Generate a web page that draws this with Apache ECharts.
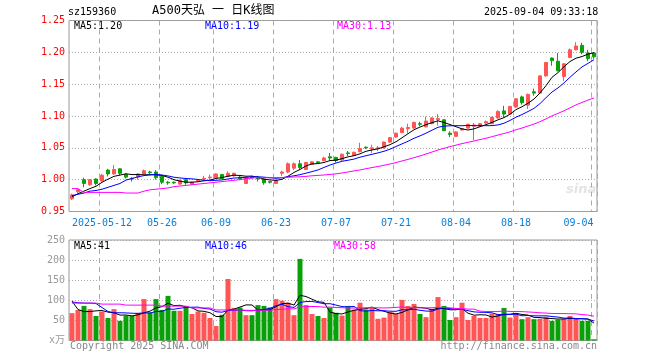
<!DOCTYPE html>
<html><head><meta charset="utf-8">
<script src="https://cdn.jsdelivr.net/npm/echarts@6/dist/echarts.min.js"></script>
<style>html,body{margin:0;padding:0;background:#fff}#c{width:660px;height:360px}</style>
</head><body><div id="c"></div>
<script>
const dates = ['2025-04-30',
'2025-05-06','2025-05-07','2025-05-08','2025-05-09',
'2025-05-12','2025-05-13','2025-05-14','2025-05-15','2025-05-16',
'2025-05-19','2025-05-20','2025-05-21','2025-05-22','2025-05-23',
'2025-05-26','2025-05-27','2025-05-28','2025-05-29','2025-05-30',
'2025-06-03','2025-06-04','2025-06-05','2025-06-06',
'2025-06-09','2025-06-10','2025-06-11','2025-06-12','2025-06-13',
'2025-06-16','2025-06-17','2025-06-18','2025-06-19','2025-06-20',
'2025-06-23','2025-06-24','2025-06-25','2025-06-26','2025-06-27',
'2025-06-30','2025-07-01','2025-07-02','2025-07-03','2025-07-04',
'2025-07-07','2025-07-08','2025-07-09','2025-07-10','2025-07-11',
'2025-07-14','2025-07-15','2025-07-16','2025-07-17','2025-07-18',
'2025-07-21','2025-07-22','2025-07-23','2025-07-24','2025-07-25',
'2025-07-28','2025-07-29','2025-07-30','2025-07-31','2025-08-01',
'2025-08-04','2025-08-05','2025-08-06','2025-08-07','2025-08-08',
'2025-08-11','2025-08-12','2025-08-13','2025-08-14','2025-08-15',
'2025-08-18','2025-08-19','2025-08-20','2025-08-21','2025-08-22',
'2025-08-25','2025-08-26','2025-08-27','2025-08-28','2025-08-29',
'2025-09-01','2025-09-02','2025-09-03','2025-09-04'];

const labelDates = ['2025-05-12','2025-05-26','2025-06-09','2025-06-23','2025-07-07','2025-07-21','2025-08-04','2025-08-18','2025-09-04'];

const opens = [0.970,0.981,1.000,0.992,1.001,0.998,1.015,1.009,1.017,1.008,
1.002,1.004,1.009,1.012,1.012,1.005,0.996,0.996,0.993,1.000,
0.993,0.998,1.001,1.003,1.003,1.008,1.005,1.006,1.004,0.994,
1.004,1.003,1.001,0.997,0.994,1.010,1.012,1.018,1.025,1.016,
1.024,1.028,1.030,1.036,1.035,1.031,1.042,1.038,1.044,1.051,
1.048,1.049,1.050,1.059,1.067,1.074,1.080,1.081,1.088,1.083,
1.088,1.094,1.094,1.073,1.068,1.078,1.081,1.084,1.084,1.089,
1.088,1.097,1.108,1.103,1.114,1.130,1.117,1.138,1.136,1.163,
1.191,1.186,1.162,1.192,1.204,1.211,1.199,1.199];

const closes = [0.976,0.984,0.994,1.000,0.994,1.007,1.009,1.016,1.010,1.004,
1.001,1.009,1.014,1.011,1.003,0.996,0.995,0.995,0.999,0.995,
0.996,0.999,1.002,1.004,1.009,1.002,1.010,1.010,1.002,1.003,
1.003,1.001,0.995,0.996,0.999,1.012,1.025,1.025,1.019,1.027,
1.028,1.027,1.034,1.034,1.030,1.040,1.041,1.043,1.049,1.050,
1.050,1.050,1.059,1.066,1.073,1.081,1.082,1.090,1.087,1.092,
1.097,1.096,1.077,1.071,1.075,1.080,1.087,1.086,1.088,1.091,
1.098,1.107,1.103,1.115,1.127,1.121,1.134,1.136,1.163,1.184,
1.187,1.171,1.182,1.204,1.210,1.200,1.190,1.193];

const lows = [0.968,0.979,0.988,0.990,0.991,0.997,1.005,1.008,1.007,1.002,
0.997,1.000,1.008,1.009,1.000,0.993,0.992,0.993,0.992,0.992,
0.992,0.996,0.999,1.000,1.002,1.001,1.004,1.005,1.000,0.993,
1.002,0.997,0.992,0.994,0.993,1.006,1.010,1.015,1.015,1.015,
1.023,1.025,1.029,1.030,1.027,1.030,1.037,1.037,1.043,1.048,
1.042,1.045,1.049,1.058,1.066,1.073,1.073,1.080,1.084,1.082,
1.087,1.085,1.076,1.067,1.067,1.077,1.080,1.062,1.083,1.088,
1.087,1.096,1.098,1.102,1.113,1.118,1.111,1.132,1.135,1.162,
1.179,1.170,1.155,1.191,1.203,1.197,1.186,1.190];

const highs = [0.978,0.986,1.003,1.001,1.002,1.009,1.017,1.023,1.018,1.010,
1.004,1.010,1.016,1.014,1.015,1.006,0.998,0.997,1.000,1.001,
0.997,1.001,1.006,1.008,1.010,1.009,1.013,1.011,1.006,1.004,
1.006,1.006,1.002,0.998,1.000,1.014,1.027,1.027,1.031,1.028,
1.029,1.029,1.036,1.042,1.036,1.041,1.045,1.044,1.058,1.052,
1.055,1.053,1.060,1.067,1.074,1.083,1.088,1.091,1.091,1.099,
1.098,1.103,1.095,1.076,1.076,1.081,1.088,1.089,1.089,1.093,
1.099,1.109,1.116,1.116,1.128,1.132,1.135,1.143,1.164,1.185,
1.192,1.199,1.183,1.206,1.216,1.215,1.204,1.200];

const volumes = [68,76,86,78,61,72,56,78,49,62,
61,69,103,70,103,76,111,74,74,82,
66,72,69,56,36,64,153,81,82,63,
63,88,86,82,103,99,94,63,203,88,
66,61,56,82,69,62,86,77,94,77,
82,54,57,71,66,101,86,91,66,58,
79,108,86,51,58,94,51,61,56,56,
67,66,81,57,67,53,58,53,54,59,
49,52,54,61,54,49,49,3];

// moving-average values at the start of the window (history before window)
const ma5Head = [0.973,0.978,0.982,0.986];
const ma10Head = [0.975,0.977,0.979,0.982,0.983,0.985,0.988,0.991,0.994];
const ma30Head = [0.986,0.986,0.980,0.980,0.980,0.980,0.980,0.980,0.980,0.979,
0.979,0.979,0.982,0.984,0.985,0.986,0.987,0.989,0.990,0.991,
0.992,0.993,0.994,0.995,0.996,0.997,0.998,0.999,1.000];
const volMa5Head = [98,77,72,72];
const volMa10Head = [96,94,93,93,92,82,72,69,69];
const volMa30Head = [93,93,93,93,93,90.5,90.5,90.5,90.5,88,88,88,88,88,88,85.5,85.5,85.5,85.5,85.5,81,81,81,81,76,76,76,76,76];

function movingAverage(vals, n, head) {
  return vals.map((v, i) => {
    if (i < head.length) return head[i];
    let s = 0;
    for (let k = i - n + 1; k <= i; k++) s += vals[k];
    return +(s / n).toFixed(4);
  });
}

const UP = '#ff5555', DOWN = '#0aa00a';
const MONO = '"DejaVu Sans Mono", "Noto Sans CJK SC", monospace';
const kData = dates.map((d, i) => [opens[i], closes[i], lows[i], highs[i]]);
const volData = volumes.map((v, i) => ({ value: v, itemStyle: { color: closes[i] >= opens[i] ? UP : DOWN } }));
const labelIdx = labelDates.map(d => dates.indexOf(d));
const isLabel = (i) => labelIdx.indexOf(i) >= 0;

const chart = echarts.init(document.getElementById('c'), null, { renderer: 'canvas' });
const gridLeft = 69, gridW = 528;
const splitX = { show: true, interval: (i) => isLabel(i), lineStyle: { color: '#aaaaaa', type: [5, 4], width: 1 } };

function lineSeries(name, data, color, xi) {
  return { name, type: 'line', data, xAxisIndex: xi, yAxisIndex: xi, showSymbol: false, symbol: 'none',
    lineStyle: { color, width: 1 }, itemStyle: { color }, z: 3, silent: true };
}

chart.setOption({
  animation: false,
  backgroundColor: '#fff',
  grid: [
    { left: gridLeft, top: 20.5, width: gridW, height: 191, show: true, borderColor: '#999', borderWidth: 1 },
    { left: gridLeft, top: 240, width: gridW, height: 100.5, show: true, borderColor: '#999', borderWidth: 1 }
  ],
  xAxis: [
    { type: 'category', gridIndex: 0, data: dates, boundaryGap: true,
      axisLine: { show: false }, axisTick: { show: false },
      axisLabel: { show: true, interval: (i) => isLabel(i), color: '#0a7fd8', fontFamily: MONO, fontSize: 10, margin: 7,
        formatter: (v, i) => {
          if (i === labelIdx[0]) return v;
          if (i === dates.length - 1) return '{r|' + v.slice(5) + '}';
          return v.slice(5);
        },
        rich: { r: { color: '#0a7fd8', fontFamily: MONO, fontSize: 10, padding: [0, 31, 0, 0] } } },
      splitLine: splitX },
    { type: 'category', gridIndex: 1, data: dates, boundaryGap: true,
      axisLine: { show: false }, axisTick: { show: false }, axisLabel: { show: false },
      splitLine: splitX }
  ],
  yAxis: [
    { type: 'value', gridIndex: 0, min: 0.95, max: 1.25, interval: 0.05, scale: true,
      axisLine: { show: false }, axisTick: { show: false },
      axisLabel: { color: '#ff0000', fontFamily: MONO, fontSize: 10, margin: 4, formatter: (v) => v.toFixed(2) },
      splitLine: { show: true, lineStyle: { color: '#aaaaaa', type: [1, 2], width: 1 } } },
    { type: 'value', gridIndex: 1, min: 0, max: 250, interval: 50,
      axisLine: { show: false }, axisTick: { show: false },
      axisLabel: { color: '#999999', fontFamily: MONO, fontSize: 10, margin: 4, formatter: (v) => v === 0 ? 'x万' : String(v) },
      splitLine: { show: true, lineStyle: { color: '#aaaaaa', type: [1, 2], width: 1 } } }
  ],
  series: [
    { type: 'candlestick', name: 'K', data: kData, xAxisIndex: 0, yAxisIndex: 0, barWidth: 4,
      itemStyle: { color: UP, color0: DOWN, borderColor: UP, borderColor0: DOWN, borderWidth: 1 }, z: 2 },
    lineSeries('MA5', movingAverage(closes, 5, ma5Head), '#000000', 0),
    lineSeries('MA10', movingAverage(closes, 10, ma10Head), '#0000ff', 0),
    lineSeries('MA30', movingAverage(closes, 30, ma30Head), '#ff00ff', 0),
    { type: 'bar', name: 'VOL', data: volData, xAxisIndex: 1, yAxisIndex: 1, barWidth: 5, z: 2 },
    lineSeries('VMA5', movingAverage(volumes, 5, volMa5Head), '#000000', 1),
    lineSeries('VMA10', movingAverage(volumes, 10, volMa10Head), '#0000ff', 1),
    lineSeries('VMA30', movingAverage(volumes, 30, volMa30Head), '#ff00ff', 1)
  ],
  graphic: [
    { type: 'text', left: 68, top: 7, style: { text: 'sz159360', fill: '#000', font: '10px ' + MONO } },
    { type: 'text', left: 152, top: 5, style: { text: 'A500天弘 一 日K线图', fill: '#000', font: '12px ' + MONO } },
    { type: 'text', left: 484, top: 7, style: { text: '2025-09-04 09:33:18', fill: '#000', font: '10px ' + MONO } },
    { type: 'text', left: 74, top: 21, style: { text: 'MA5:1.20', fill: '#000', font: '10px ' + MONO } },
    { type: 'text', left: 205, top: 21, style: { text: 'MA10:1.19', fill: '#0000ff', font: '10px ' + MONO } },
    { type: 'text', left: 337, top: 21, style: { text: 'MA30:1.13', fill: '#ff00ff', font: '10px ' + MONO } },
    { type: 'text', left: 74, top: 241, style: { text: 'MA5:41', fill: '#000', font: '10px ' + MONO } },
    { type: 'text', left: 205, top: 241, style: { text: 'MA10:46', fill: '#0000ff', font: '10px ' + MONO } },
    { type: 'text', left: 334, top: 241, style: { text: 'MA30:58', fill: '#ff00ff', font: '10px ' + MONO } },
    { type: 'text', left: 70, top: 341, style: { text: 'Copyright 2025 SINA.COM', fill: '#888', font: '10px ' + MONO } },
    { type: 'text', right: 63, top: 341, style: { text: 'http://finance.sina.com.cn', fill: '#888', font: '10px ' + MONO } },
    { type: 'text', left: 566, top: 183, style: { text: 'sina', fill: '#e4e4e4', font: 'italic bold 13px "DejaVu Sans", sans-serif' } }
  ]
});
</script></body></html>
